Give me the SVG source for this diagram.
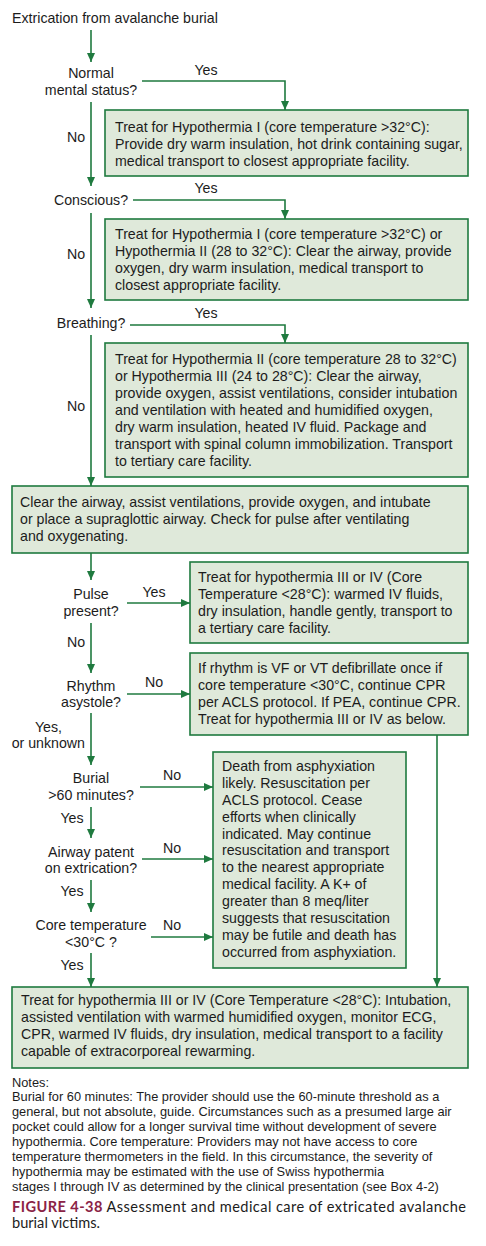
<svg xmlns="http://www.w3.org/2000/svg" width="486" height="1246" viewBox="0 0 486 1246">
<style>
text{font-family:"Liberation Sans",Arial,sans-serif;font-size:14.2px;fill:#1c1c1c}
.c{text-anchor:middle}
.box{fill:#dfe9da;stroke:#1f7a3f;stroke-width:1.6}
.ln{fill:none;stroke:#1f7a3f;stroke-width:1.6}
.note{font-size:12.8px}
.cap{font-family:"Lato","Open Sans",sans-serif;font-size:14.6px}
.fig{fill:#8b2346;font-weight:bold}
</style>
<defs>
<marker id="ah" markerUnits="userSpaceOnUse" markerWidth="9" markerHeight="8" refX="9" refY="4" orient="auto">
<path d="M0,0 L9,4 L0,8 z" fill="#1f7a3f"/>
</marker>
</defs>
<rect width="486" height="1246" fill="#ffffff"/>

<g id="connectors">
<path class="ln" marker-end="url(#ah)" d="M91,30 V62"/>
<path class="ln" marker-end="url(#ah)" d="M142,81 H285 V110"/>
<path class="ln" marker-end="url(#ah)" d="M91,102 V186"/>
<path class="ln" marker-end="url(#ah)" d="M133,200 H285 V219"/>
<path class="ln" marker-end="url(#ah)" d="M91,213 V308"/>
<path class="ln" marker-end="url(#ah)" d="M130,325 H285 V343"/>
<path class="ln" marker-end="url(#ah)" d="M91,335 V486"/>
<path class="ln" marker-end="url(#ah)" d="M91,553 V580"/>
<path class="ln" marker-end="url(#ah)" d="M127,603 H190"/>
<path class="ln" marker-end="url(#ah)" d="M91,623 V673"/>
<path class="ln" marker-end="url(#ah)" d="M127,694 H190"/>
<path class="ln" marker-end="url(#ah)" d="M91,713 V765"/>
<path class="ln" marker-end="url(#ah)" d="M140,787 H213"/>
<path class="ln" marker-end="url(#ah)" d="M91,807 V838"/>
<path class="ln" marker-end="url(#ah)" d="M142,859 H213"/>
<path class="ln" marker-end="url(#ah)" d="M91,880 V912"/>
<path class="ln" marker-end="url(#ah)" d="M151,937 H213"/>
<path class="ln" marker-end="url(#ah)" d="M91,953 V987"/>
<path class="ln" marker-end="url(#ah)" d="M437,735 V987"/>
<text class="c" x="206" y="75">Yes</text>
<text class="c" x="76" y="142">No</text>
<text class="c" x="206" y="193">Yes</text>
<text class="c" x="76" y="259">No</text>
<text class="c" x="206" y="318">Yes</text>
<text class="c" x="76" y="411">No</text>
<text class="c" x="154" y="597">Yes</text>
<text class="c" x="76" y="647">No</text>
<text class="c" x="154" y="687">No</text>
<text x="62" y="732" text-anchor="end">Yes,</text>
<text x="85" y="748" text-anchor="end">or unknown</text>
<text class="c" x="172" y="780">No</text>
<text class="c" x="72" y="823">Yes</text>
<text class="c" x="172" y="853">No</text>
<text class="c" x="72" y="896">Yes</text>
<text class="c" x="172" y="930">No</text>
<text class="c" x="72" y="970">Yes</text>
</g>

<g id="start"><text x="12" y="23">Extrication from avalanche burial</text></g>

<g id="q-mental"><text class="c" x="91" y="78">Normal</text><text class="c" x="91" y="95">mental status?</text></g>

<g id="box-hypo1">
<rect class="box" x="105" y="110" width="363" height="66"/>
<text x="115" y="132">Treat for Hypothermia I (core temperature &gt;32°C):</text>
<text x="115" y="149">Provide dry warm insulation, hot drink containing sugar,</text>
<text x="115" y="166">medical transport to closest appropriate facility.</text>
</g>

<g id="q-conscious"><text class="c" x="91" y="205">Conscious?</text></g>

<g id="box-hypo1-2">
<rect class="box" x="105" y="219" width="363" height="81"/>
<text x="115" y="239">Treat for Hypothermia I (core temperature &gt;32°C) or</text>
<text x="115" y="256">Hypothermia II (28 to 32°C):  Clear the airway, provide</text>
<text x="115" y="273">oxygen, dry warm insulation, medical transport to</text>
<text x="115" y="290">closest appropriate facility.</text>
</g>

<g id="q-breathing"><text class="c" x="91" y="328">Breathing?</text></g>

<g id="box-hypo2-3">
<rect class="box" x="105" y="343" width="363" height="134"/>
<text x="115" y="364">Treat for Hypothermia II (core temperature 28 to 32°C)</text>
<text x="115" y="381">or Hypothermia III (24 to 28°C): Clear the airway,</text>
<text x="115" y="398">provide oxygen, assist ventilations, consider intubation</text>
<text x="115" y="415">and ventilation with heated and humidified oxygen,</text>
<text x="115" y="432">dry warm insulation, heated IV fluid. Package and</text>
<text x="115" y="449">transport with spinal column immobilization. Transport</text>
<text x="115" y="466">to tertiary care facility.</text>
</g>

<g id="box-airway">
<rect class="box" x="12" y="486" width="456" height="67"/>
<text x="20" y="507">Clear the airway, assist ventilations, provide oxygen, and intubate</text>
<text x="20" y="524">or place a supraglottic airway. Check for pulse after ventilating</text>
<text x="20" y="541">and oxygenating.</text>
</g>

<g id="q-pulse"><text class="c" x="91" y="599">Pulse</text><text class="c" x="91" y="616">present?</text></g>

<g id="box-pulse">
<rect class="box" x="190" y="562" width="278" height="81"/>
<text x="198" y="582">Treat for hypothermia III or IV (Core</text>
<text x="198" y="599">Temperature &lt;28°C): warmed IV fluids,</text>
<text x="198" y="616">dry insulation, handle gently, transport to</text>
<text x="198" y="633">a tertiary care facility.</text>
</g>

<g id="q-rhythm"><text class="c" x="91" y="691">Rhythm</text><text class="c" x="91" y="707">asystole?</text></g>

<g id="box-rhythm">
<rect class="box" x="190" y="653" width="278" height="82"/>
<text x="198" y="673">If rhythm is VF or VT defibrillate once if</text>
<text x="198" y="690">core temperature &lt;30°C, continue CPR</text>
<text x="198" y="707">per ACLS protocol. If PEA, continue CPR.</text>
<text x="198" y="724">Treat for hypothermia III or IV as below.</text>
</g>

<g id="q-burial"><text class="c" x="91" y="783">Burial</text><text class="c" x="91" y="800">&gt;60 minutes?</text></g>
<g id="q-patent"><text class="c" x="91" y="857">Airway patent</text><text class="c" x="91" y="873">on extrication?</text></g>
<g id="q-core"><text class="c" x="91" y="930">Core temperature</text><text class="c" x="91" y="947">&lt;30°C ?</text></g>

<g id="box-death">
<rect class="box" x="213" y="752" width="193" height="216"/>
<text x="222" y="771">Death from asphyxiation</text>
<text x="222" y="788">likely. Resuscitation per</text>
<text x="222" y="805">ACLS protocol. Cease</text>
<text x="222" y="822">efforts when clinically</text>
<text x="222" y="839">indicated. May continue</text>
<text x="222" y="855">resuscitation and transport</text>
<text x="222" y="872">to the nearest appropriate</text>
<text x="222" y="889">medical facility. A K+ of</text>
<text x="222" y="906">greater than 8 meq/liter</text>
<text x="222" y="923">suggests that resuscitation</text>
<text x="222" y="940">may be futile and death has</text>
<text x="222" y="957">occurred from asphyxiation.</text>
</g>

<g id="box-final">
<rect class="box" x="12" y="987" width="456" height="81"/>
<text x="21" y="1005">Treat for hypothermia III or IV (Core Temperature &lt;28°C): Intubation,</text>
<text x="21" y="1022">assisted ventilation with warmed humidified oxygen, monitor ECG,</text>
<text x="21" y="1039">CPR, warmed IV fluids, dry insulation, medical transport to a facility</text>
<text x="21" y="1056">capable of extracorporeal rewarming.</text>
</g>

<g id="notes">
<text class="note" x="12" y="1087">Notes:</text>
<text class="note" x="12" y="1101">Burial for 60 minutes: The provider should use the 60-minute threshold as a</text>
<text class="note" x="12" y="1116">general, but not absolute, guide. Circumstances such as a presumed large air</text>
<text class="note" x="12" y="1131">pocket could allow for a longer survival time without development of severe</text>
<text class="note" x="12" y="1146">hypothermia. Core temperature: Providers may not have access to core</text>
<text class="note" x="12" y="1161">temperature thermometers in the field. In this circumstance, the severity of</text>
<text class="note" x="12" y="1176">hypothermia may be estimated with the use of Swiss hypothermia</text>
<text class="note" x="12" y="1191">stages I through IV as determined by the clinical presentation (see Box 4-2)</text>
</g>

<g id="caption">
<text class="cap" x="12" y="1212" textLength="454" lengthAdjust="spacing"><tspan class="fig">FIGURE 4-38</tspan> Assessment and medical care of extricated avalanche</text>
<text class="cap" x="12" y="1228">burial victims.</text>
</g>
</svg>
